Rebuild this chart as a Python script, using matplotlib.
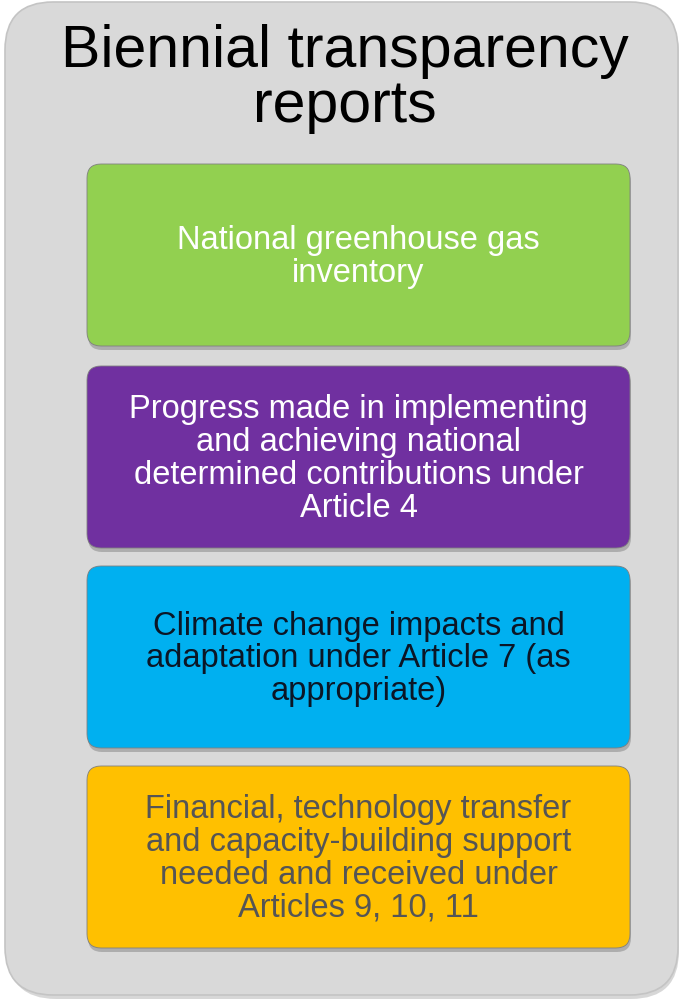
import matplotlib.pyplot as plt
from matplotlib.patches import FancyBboxPatch

# Diagram content
title_lines = ["Biennial transparency", "reports"]
items = [
    "National greenhouse gas\ninventory",
    "Progress made in implementing\nand achieving national\ndetermined contributions under\nArticle 4",
    "Climate change impacts and\nadaptation under Article 7 (as\nappropriate)",
    "Financial, technology transfer\nand capacity-building support\nneeded and received under\nArticles 9, 10, 11",
]
box_colors = ["#92d050", "#7030a0", "#00b0f0", "#ffc000"]
text_colors = ["white", "white", "#0b1626", "#555555"]

# layout in pixel units (y downward)
W, H = 682, 1003
box_tops = [165, 367, 567, 767]
box_h = 182
box_x0, box_x1 = 87, 630
title_baselines = [67, 122]

fig = plt.figure(figsize=(W / 100, H / 100), dpi=100)
ax = fig.add_axes([0, 0, 1, 1])
ax.set_xlim(0, W)
ax.set_ylim(H, 0)
ax.axis('off')

font = 'Liberation Sans'

# outer container with soft shadow
ax.add_patch(FancyBboxPatch((8, 6), 671, 994, boxstyle="round,pad=0,rounding_size=48",
                            fc="#bdbdbd", ec="none", alpha=0.6, zorder=0))
ax.add_patch(FancyBboxPatch((5, 3), 673, 993, boxstyle="round,pad=0,rounding_size=48",
                            fc="#d9d9d9", ec="#c4c4c4", lw=1.2, zorder=1))

for line, yb in zip(title_lines, title_baselines):
    ax.text(W / 2 + 4, yb, line, ha='center', va='baseline', fontsize=42.5,
            family=font, color='black', zorder=3)

for top, label, fc, tc in zip(box_tops, items, box_colors, text_colors):
    # drop shadow
    ax.add_patch(FancyBboxPatch((box_x0 + 1, top + 4), box_x1 - box_x0, box_h,
                                boxstyle="round,pad=0,rounding_size=14",
                                fc="#8a8a8a", ec="none", alpha=0.55, zorder=2))
    ax.add_patch(FancyBboxPatch((box_x0, top), box_x1 - box_x0, box_h,
                                boxstyle="round,pad=0,rounding_size=14",
                                fc=fc, ec="#7f7f7f", lw=0.6, zorder=3))
    ax.text((box_x0 + box_x1) / 2, top + box_h / 2 + 1, label, ha='center', va='center',
            fontsize=23.5, family=font, color=tc, linespacing=1.08, zorder=4)

fig.savefig("out.png", dpi=100)
